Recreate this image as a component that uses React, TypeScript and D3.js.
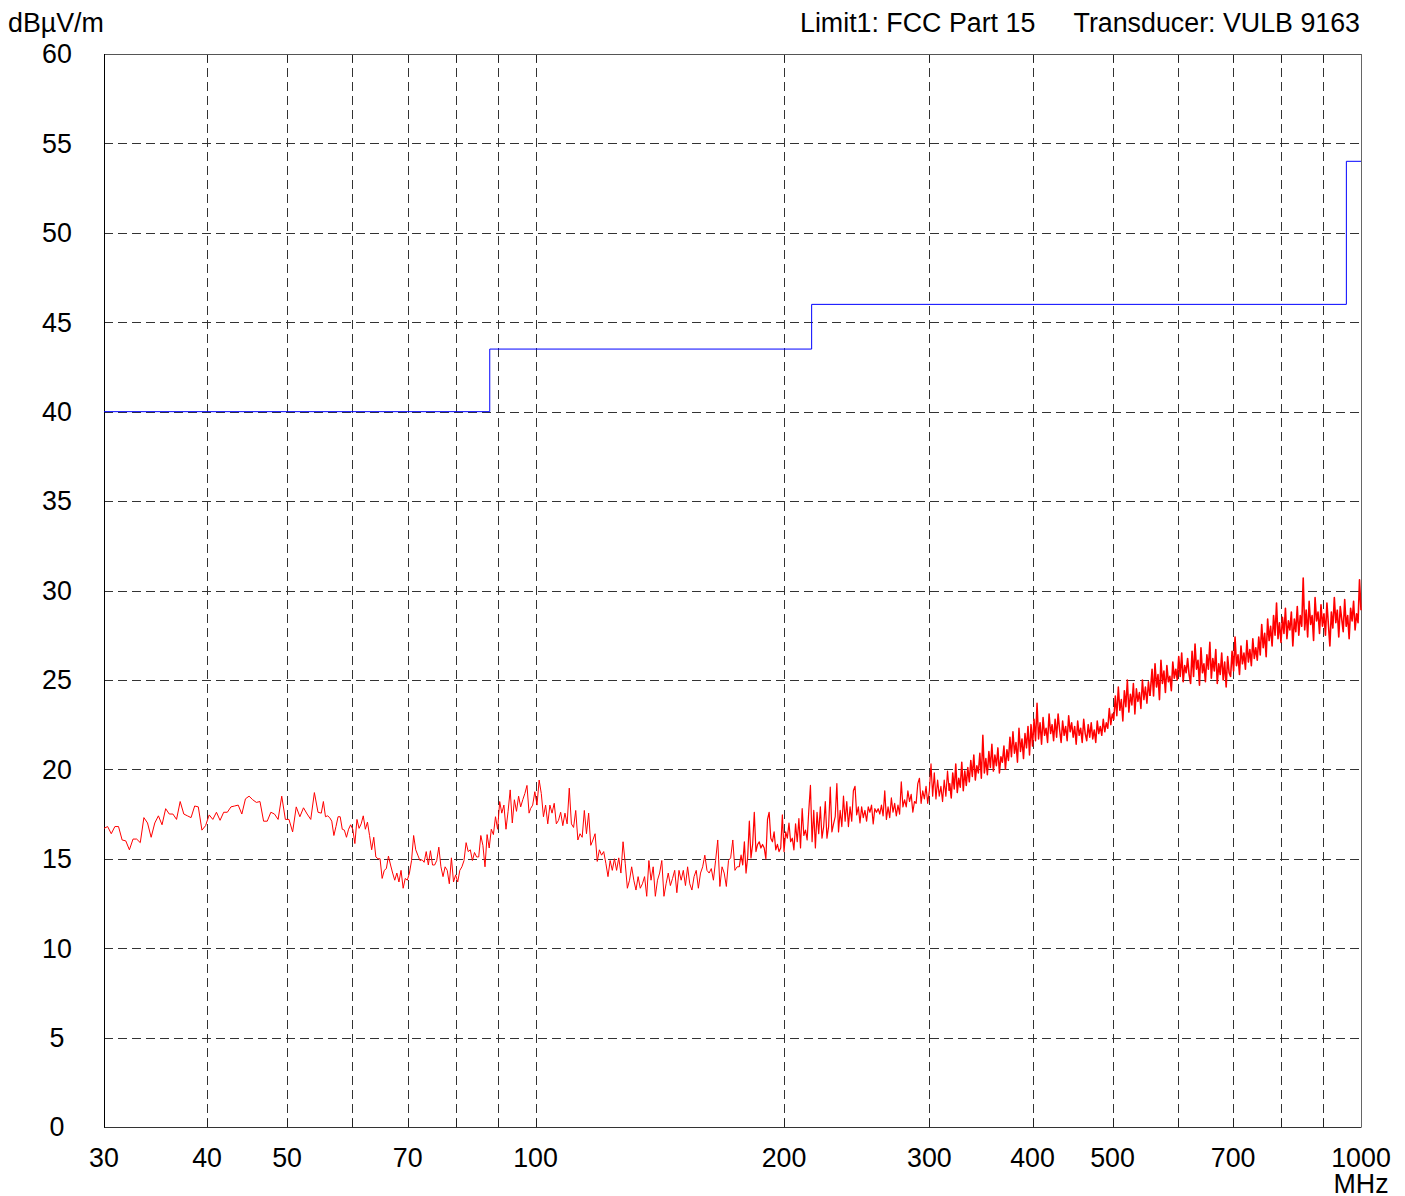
import * as d3 from 'd3'

// limit line (FCC Part 15, class B, 3 m)
const limitEdges = [30, 88, 216, 960, 1000]
const limitLevels = [40, 43.5, 46, 54]

const yTicks = [0, 5, 10, 15, 20, 25, 30, 35, 40, 45, 50, 55, 60]
const xGrid = [40, 50, 60, 70, 80, 90, 100, 200, 300, 400, 500, 600, 700, 800, 900]
const xLabels = [30, 40, 50, 70, 100, 200, 300, 400, 500, 700, 1000]

// measured trace, in sweep segments [start MHz, stop MHz, levels dBµV/m]
const seg30to55 = [
  16.7, 16.8, 16.4, 16.8, 16.8, 16.05, 16.0, 15.5, 16.1, 16.1, 15.9, 17.3, 17.0, 16.2, 17.0, 17.4, 16.9, 17.8, 17.5, 17.5,
  17.2, 18.2, 17.5, 17.4, 17.3, 17.95, 17.9, 16.6, 16.85, 17.45, 17.2, 17.6, 17.15, 17.6, 17.6, 17.9, 17.95, 18.0, 17.5, 18.35,
  18.5, 18.3, 18.15, 18.2, 17.1, 17.1, 17.6, 17.5, 17.2, 18.5, 17.2, 17.2, 16.5, 17.9, 17.35, 17.85, 17.5, 17.2, 18.7, 17.6,
]
const seg55to98 = [
  17.55, 18.2, 17.35, 17.4, 17.3, 17.1, 16.3, 16.8, 17.35, 17.35, 16.65, 16.6, 16.2, 16.65, 16.9, 16.65, 15.85, 17.2, 16.7, 16.95,
  17.4, 16.65, 17.05, 16.3, 15.5, 16.2, 15.1, 15.0, 15.0, 13.9, 14.35, 14.45, 15.15, 14.65, 14.2, 13.8, 14.2, 13.7, 14.35, 13.35,
  13.9, 13.8, 14.2, 14.9, 16.3, 15.5, 15.2, 14.9, 14.95, 14.8, 15.4, 14.65, 15.45, 14.65, 14.65, 14.9, 15.65, 14.55, 14.0, 14.55,
  14.35, 13.6, 15.05, 13.7, 14.1, 13.7, 14.35, 14.55, 14.9, 15.9, 15.4, 15.5, 14.9, 15.35, 15.1, 15.1, 16.3, 15.75, 14.55, 16.35,
  15.6, 16.65, 16.35, 17.35, 16.65, 18.2, 17.55, 18.0, 16.65, 17.65, 18.85, 17.0, 18.3, 17.65, 18.5, 17.9, 18.3, 18.65, 19.1, 17.55,
]
const seg98to177 = [
  17.8, 18.0, 18.75, 18.0, 19.4, 18.65, 17.35, 18.0, 16.95, 18.0, 17.55, 18.1, 16.95, 17.15, 17.6, 16.85, 17.55, 16.95, 18.95, 16.95,
  16.75, 17.7, 16.05, 16.4, 16.2, 17.7, 16.4, 17.55, 15.75, 16.05, 16.4, 14.85, 15.5, 15.2, 15.4, 14.75, 14.0, 14.9, 14.35, 15.0,
  14.35, 15.05, 14.2, 15.95, 14.75, 13.35, 13.8, 14.55, 13.8, 13.25, 14.0, 13.35, 13.6, 14.0, 12.9, 14.9, 13.8, 14.55, 12.9, 13.8,
  14.2, 14.9, 12.9, 13.6, 14.2, 13.5, 13.9, 14.35, 13.1, 14.35, 13.8, 14.35, 13.5, 14.55, 13.6, 13.25, 14.0, 14.35, 13.35, 14.2,
  14.55, 15.2, 14.35, 14.2, 14.45, 13.8, 14.9, 16.05, 13.45, 14.55, 14.2, 13.45, 14.9, 15.05, 16.05, 14.35, 14.55, 14.55,
]
const seg177to317 = [
  15.2, 14.65, 15.95, 14.2, 15.1, 17.1, 15.05, 15.8, 17.6, 15.4, 15.8, 15.95, 15.6, 15.8, 15.6, 15.0, 17.2, 17.6, 16.15, 15.95,
  16.5, 15.5, 15.8, 15.4, 15.6, 17.45, 15.4, 16.5, 16.15, 17.0, 15.95, 16.15, 15.5, 16.95, 15.95, 17.25, 15.6, 17.8, 16.3, 16.6,
  16.05, 17.7, 19.1, 15.95, 17.7, 15.6, 17.6, 16.4, 17.9, 16.15, 16.8, 18.2, 16.15, 16.8, 19.0, 16.5, 16.95, 17.35, 19.2, 16.5,
  17.7, 16.8, 18.5, 17.1, 18.2, 16.8, 17.9, 17.1, 18.8, 19.05, 17.45, 17.9, 17.0, 17.9, 17.3, 17.7, 17.1, 17.9, 17.6, 18.0,
  16.95, 17.8, 17.6, 17.8, 17.5, 18.0, 17.4, 18.8, 17.2, 17.9, 17.3, 18.4, 17.6, 18.1, 17.4, 18.0, 17.5, 19.3, 17.9, 18.3,
  17.9, 18.8, 18.2, 18.6, 17.6, 18.2, 18.1, 19.2, 19.5, 18.1, 18.8, 18.35, 19.05, 18.1, 18.8, 20.3, 18.5, 19.8, 18.35, 19.4,
  18.5, 19.05, 18.2, 19.4, 18.5, 19.9, 18.8,
]
const seg317to555 = [
  19.2, 18.4, 19.8, 18.9, 20.3, 18.7, 19.5, 19.0, 20.4, 18.8, 19.9, 19.1, 20.1, 19.3, 20.5,
  19.6, 20.8, 19.4, 20.2, 19.8, 20.9, 19.5, 21.9,
  19.8, 20.6, 19.7, 21.0, 20.1, 21.4, 19.9, 20.8, 20.2, 21.2, 19.8, 20.7, 20.4, 21.3, 20.0, 21.1,
  20.5, 21.8, 20.7, 22.1, 20.9, 21.5, 20.4, 22.3, 21.0, 21.7, 20.6, 22.0, 21.2, 22.4, 20.8,
  22.5, 21.3, 22.8, 21.6, 23.7,
  21.7, 22.6, 21.4, 22.9, 21.9, 22.3, 21.5, 23.1, 22.0, 22.5, 21.6, 22.8, 21.8, 23.1, 22.2, 21.5, 22.7, 21.9, 22.4, 21.6, 23.0, 22.1, 22.6, 21.8,
  22.4, 21.4, 22.7, 21.9, 22.3, 21.5, 22.8, 22.0, 21.6, 22.5, 21.8, 22.6, 21.7, 22.2, 21.5, 22.7, 22.0, 22.4, 21.9, 22.8, 22.1, 22.6,
  22.3, 23.4, 22.5, 23.1,
  22.8, 24.1, 23.0, 24.6, 23.3, 23.9, 22.7, 24.4, 23.5, 25.0, 23.2, 24.2, 23.6, 24.8, 23.1, 24.5, 23.8, 24.3, 23.4, 25.0, 23.9, 24.6, 23.7, 24.9, 24.1,
]
const seg555to1000 = [
  24.5, 25.6, 24.1, 25.9, 24.6, 25.3, 23.9, 26.1, 24.8, 25.5, 24.3, 25.8, 24.9, 25.2, 24.4, 26.0, 25.1, 25.6,
  25.0, 26.3, 25.2, 26.5, 24.9, 25.8, 25.4, 26.2, 25.3,
  24.8, 26.6, 25.2, 27.0, 25.6, 26.1, 24.7, 26.8, 25.4, 25.9, 24.9, 26.4, 25.6, 27.1, 25.1, 26.2, 25.5, 26.7, 24.8, 25.9, 25.3, 26.5, 25.0, 26.0, 24.6, 26.3, 25.4,
  25.2, 26.6, 25.5, 27.4, 25.8, 26.4, 25.3, 26.9, 25.9, 26.5, 25.6, 27.2, 26.0, 26.7, 25.8, 27.3, 26.2, 26.8, 26.1, 27.4,
  26.4, 28.1, 26.8, 27.6, 26.3, 28.4, 27.2, 28.0, 26.9, 28.6, 27.5, 29.3, 27.3, 28.2,
  27.1, 28.5, 27.6, 29.0, 27.3, 28.3, 27.8, 28.8, 26.9, 28.4, 27.7, 29.1, 27.5, 28.6, 28.0, 30.7,
  27.8, 28.9, 27.4, 29.4, 28.1, 28.6, 27.2, 29.6, 28.3, 28.8, 27.6, 29.2, 28.0,
  28.7, 27.5, 29.3, 28.1, 26.9, 28.8, 27.9, 29.6, 28.2, 28.9, 27.4, 29.1, 28.4, 27.7, 29.5, 28.0, 28.6, 27.3, 29.0, 28.3, 29.4, 27.8, 28.7, 28.2, 30.6, 28.9,
]

// the upper sweeps are much denser on screen, drawn a bit heavier
const traceSegments: [number, number, number[], number][] = [
  [30, 54.5, seg30to55, 1],
  [55.0, 98.2, seg55to98, 1],
  [98.6, 176.5, seg98to177, 1],
  [177.4, 317.0, seg177to317, 1.2],
  [317.5, 555, seg317to555, 1.5],
  [556, 1000, seg555to1000, 1.6],
]

const W = 1405
const H = 1196
const left = 104
const right = 1361
const top = 54
const bottom = 1127
const font = '"Liberation Sans", Arial, sans-serif'

export default function App() {
  const x = d3.scaleLog().domain([30, 1000]).range([left, right])
  const y = d3.scaleLinear().domain([0, 60]).range([bottom, top])

  // spread each segment's readings evenly over its log-frequency span
  const pieces: { pts: [number, number][]; w: number }[] = []
  let prev: [number, number] | null = null
  traceSegments.forEach(([f0, f1, vals, w]) => {
    const n = vals.length
    const pts: [number, number][] = prev ? [prev] : []
    vals.forEach((v, i) => {
      const f = f0 * Math.pow(f1 / f0, i / (n - 1))
      pts.push([f, v])
    })
    prev = pts[pts.length - 1]
    pieces.push({ pts, w })
  })

  const line = d3.line<[number, number]>()
    .x(d => x(d[0]))
    .y(d => y(d[1]))

  const limitPts: [number, number][] = limitEdges.map((f, i) => [f, limitLevels[Math.min(i, limitLevels.length - 1)]])
  const limitLine = d3.line<[number, number]>()
    .x(d => x(d[0]))
    .y(d => y(d[1]))
    .curve(d3.curveStepAfter)

  const px = (v: number) => Math.round(v) + 0.5

  return (
    <svg width={W} height={H} style={{ position: 'absolute', left: 0, top: 0, background: '#fff' }}>
      {/* grid */}
      {yTicks.filter(t => t > 0 && t < 60).map(t => (
        <line key={'h' + t} x1={left} x2={right} y1={px(y(t))} y2={px(y(t))}
          stroke="#333" strokeWidth={1} strokeDasharray="9,5" />
      ))}
      {xGrid.map(f => (
        <g key={'v' + f}>
          <line x1={px(x(f))} x2={px(x(f))} y1={top} y2={bottom}
            stroke="#333" strokeWidth={1} strokeDasharray="9,5" />
          <line x1={px(x(f))} x2={px(x(f))} y1={top} y2={top + 8} stroke="#222" />
          <line x1={px(x(f))} x2={px(x(f))} y1={bottom - 8} y2={bottom} stroke="#222" />
        </g>
      ))}

      {/* frame */}
      <line x1={left} x2={right + 0.5} y1={px(top)} y2={px(top)} stroke="#555" />
      <line x1={px(right)} x2={px(right)} y1={top} y2={bottom} stroke="#666" />
      <line x1={left} x2={right + 0.5} y1={px(bottom)} y2={px(bottom)} stroke="#333" />
      <line x1={px(left)} x2={px(left)} y1={top} y2={bottom + 0.5} stroke="#000" />

      {/* limit and trace */}
      <path d={limitLine(limitPts) ?? ''} fill="none" stroke="#0000ff" strokeWidth={1} />
      {pieces.map((p, i) => (
        <path key={'tr' + i} d={line(p.pts) ?? ''} fill="none" stroke="#ff0000"
          strokeWidth={p.w} strokeLinejoin="round" />
      ))}

      {/* labels */}
      <g fontFamily={font} fontSize={26.8} fill="#000">
        {yTicks.map(t => (
          <text key={'yl' + t} x={57} y={y(t)} dy="0.35em" textAnchor="middle">{t}</text>
        ))}
        {xLabels.map(f => (
          <text key={'xl' + f} x={x(f)} y={1167} textAnchor="middle">{f}</text>
        ))}
        <text x={x(1000)} y={1193} textAnchor="middle">MHz</text>
        <text x={8} y={32}>dBµV/m</text>
        <text x={800} y={32}>Limit1: FCC Part 15</text>
        <text x={1360} y={32} textAnchor="end">Transducer: VULB 9163</text>
      </g>
    </svg>
  )
}
